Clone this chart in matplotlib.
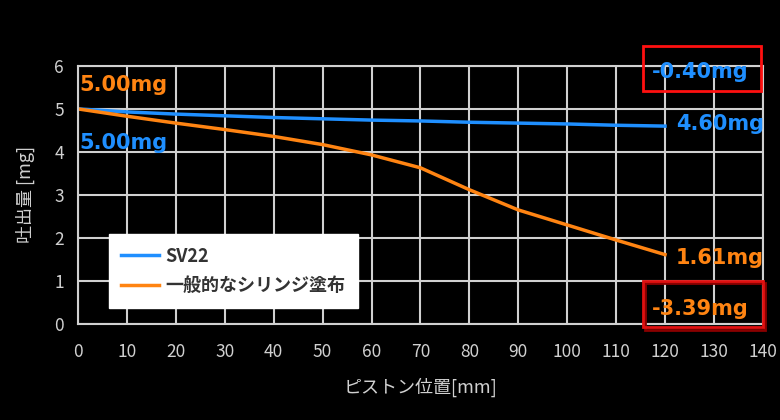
import matplotlib.pyplot as plt
from matplotlib.patches import Rectangle

plt.rcParams['font.family'] = ['Noto Sans CJK JP', 'DejaVu Sans']

position = [0, 10, 20, 30, 40, 50, 60, 70, 80, 90, 100, 110, 120]
sv22 = [5.00, 4.93, 4.88, 4.84, 4.80, 4.77, 4.74, 4.72, 4.69, 4.67, 4.65, 4.62, 4.60]
syringe = [5.00, 4.83, 4.67, 4.52, 4.36, 4.17, 3.93, 3.63, 3.12, 2.65, 2.30, 1.95, 1.61]

blue = '#1f8fff'
orange = '#ff8412'
grey = '#d0d0d0'

fig = plt.figure(figsize=(7.8, 4.2), dpi=100, facecolor='black')
ax = fig.add_axes([0.1, 0.229, 0.878, 0.614], facecolor='black')

ax.plot(position, sv22, color=blue, lw=2.5, label='SV22')
ax.plot(position, syringe, color=orange, lw=2.5, label='一般的なシリンジ塗布')

ax.set_xlim(0, 140)
ax.set_ylim(0, 6)
ax.set_xticks(range(0, 150, 10))
ax.set_yticks(range(0, 7))
ax.grid(True, color=grey, lw=1.5)
ax.set_axisbelow(True)
for s in ax.spines.values():
    s.set_color(grey)
    s.set_linewidth(1.5)
ax.tick_params(colors=grey, labelsize=12.5, length=0)
ax.tick_params(axis='x', pad=14)
ax.tick_params(axis='y', pad=10)

ax.set_xlabel('ピストン位置[mm]', color=grey, fontsize=13, labelpad=12)
ax.set_ylabel('吐出量 [mg]', color=grey, fontsize=13, labelpad=14)

leg = ax.legend(loc='lower left', bbox_to_anchor=(0.05, 0.075), fontsize=13,
                fancybox=False, framealpha=1, facecolor='white', edgecolor='white',
                handlelength=2.1, borderpad=0.5, labelspacing=0.6,
                borderaxespad=0, handletextpad=0.35)
leg.get_frame().set_boxstyle('square', pad=0.2)
for t in leg.get_texts():
    t.set_color('#333333')
    t.set_fontweight('bold')

lab = dict(fontsize=15, fontweight='bold', va='center', clip_on=False,
           family='DejaVu Sans')
ax.text(0.3, 5.56, '5.00mg', color=orange, **lab)
ax.text(0.3, 4.2, '5.00mg', color=blue, **lab)
ax.text(122.2, 4.65, '4.60mg', color=blue, **lab)
ax.text(122.2, 1.53, '1.61mg', color=orange, **lab)
ax.text(117.3, 5.86, '-0.40mg', color=blue, **lab)
ax.text(117.3, 0.35, '-3.39mg', color=orange, **lab)

ax.add_patch(Rectangle((115.5, 5.42), 24.2, 1.05, fill=False, edgecolor='#ff1010',
                       lw=2, clip_on=False, zorder=5))
ax.add_patch(Rectangle((116.0, -0.15), 24.5, 1.1, fill=False, edgecolor='#8a0000',
                       lw=2, clip_on=False, zorder=4))
ax.add_patch(Rectangle((115.5, -0.08), 24.5, 1.08, fill=False, edgecolor='#e01010',
                       lw=2, clip_on=False, zorder=5))

fig.savefig('out.png', dpi=100, facecolor='black')
